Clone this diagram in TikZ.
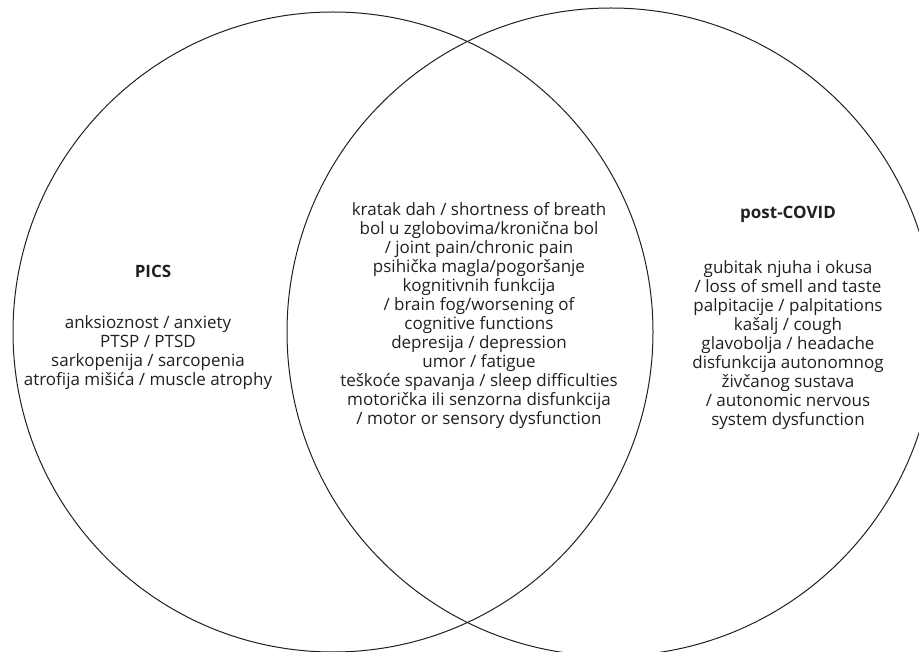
\documentclass[tikz,border=0pt]{standalone}
\usepackage{fontspec}
\setmainfont{Open Sans}
\definecolor{ink}{HTML}{231F20}
\begin{document}
\begin{tikzpicture}[x=1pt,y=-1pt,
  txt/.style={align=center,text=ink,inner sep=0pt,font=\fontsize{17}{19}\selectfont},
  ttl/.style={text=ink,inner sep=0pt,font=\fontsize{17}{19}\selectfont\bfseries},
  ring/.style={draw=ink,line width=1pt}]
\useasboundingbox (0,0) rectangle (919,652);
\clip (0,0) rectangle (919,652);
\draw[ring] (333,332) circle[radius=320];
\draw[ring] (611,332) circle[radius=324];
\node[ttl] (pics) at (153,271) {PICS};
\node[txt] (picsl) at (148,353) {anksioznost / anxiety\\PTSP / PTSD\\sarkopenija / sarcopenia\\atrofija mišića / muscle atrophy};
\node[txt] (both) at (479,316) {kratak dah / shortness of breath\\bol u zglobovima/kronična bol\\/ joint pain/chronic pain\\psihička magla/pogoršanje\\kognitivnih funkcija\\/ brain fog/worsening of\\cognitive functions\\depresija / depression\\umor / fatigue\\teškoće spavanja / sleep difficulties\\motorička ili senzorna disfunkcija\\/ motor or sensory dysfunction};
\node[ttl] (post) at (788,214) {post-COVID};
\node[txt] (postl) at (788,345) {gubitak njuha i okusa\\/ loss of smell and taste\\palpitacije / palpitations\\kašalj / cough\\glavobolja / headache\\disfunkcija autonomnog\\živčanog sustava\\/ autonomic nervous\\system dysfunction};
\end{tikzpicture}
\end{document}
